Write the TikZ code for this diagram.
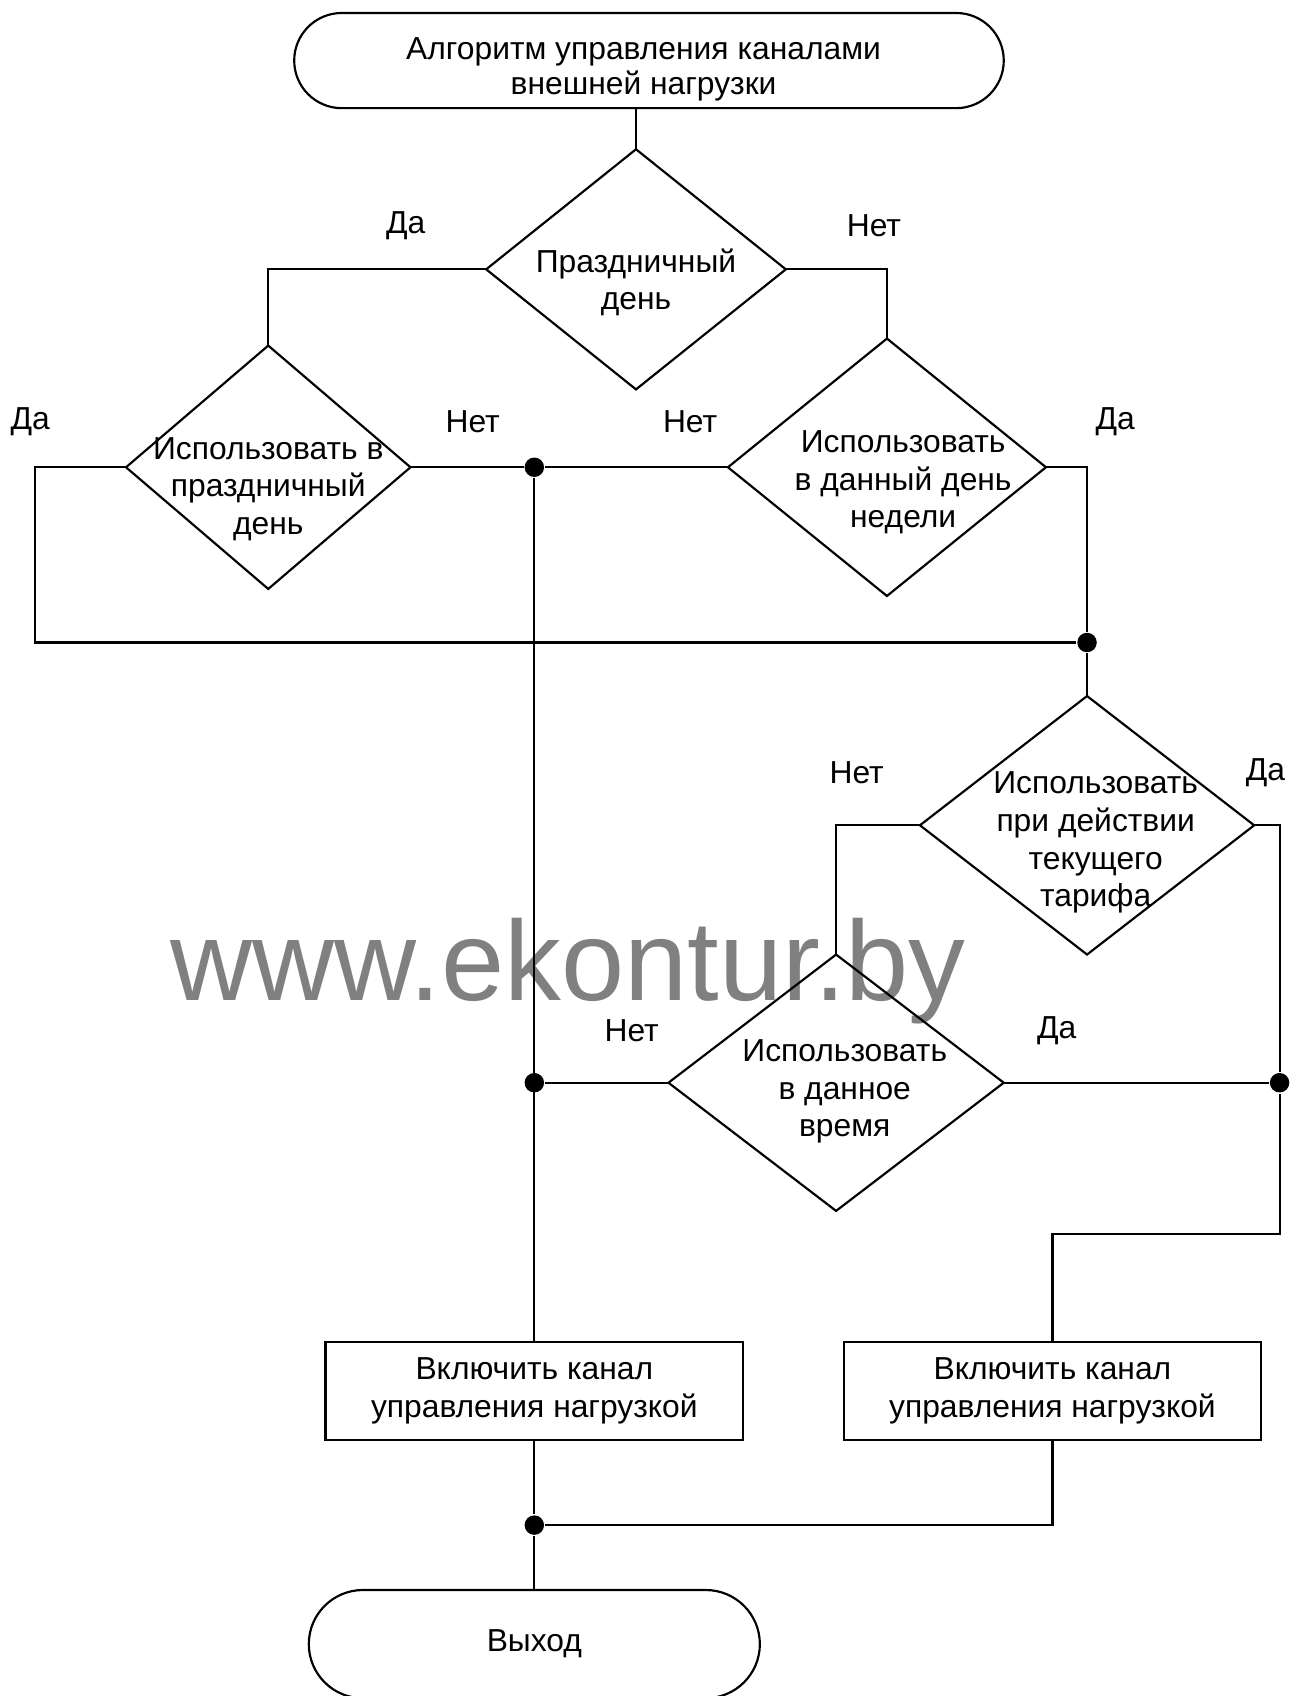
\documentclass[tikz,border=0pt]{standalone}
\usepackage{fontspec}
\setmainfont{Liberation Sans}
\usetikzlibrary{shapes.geometric}
\begin{document}
\begin{tikzpicture}[x=0.5pt,y=-0.5pt,line width=1pt,
  txt/.style={align=center,inner sep=0pt,font=\fontsize{14.7}{17.4}\selectfont},
  lbl/.style={inner sep=0pt,font=\fontsize{14.7}{17.4}\selectfont},
  dia/.style={draw,diamond,inner sep=0pt,outer sep=0pt},
  term/.style={draw,rectangle,inner sep=0pt,outer sep=0pt,align=center,font=\fontsize{14.7}{17.4}\selectfont},
  proc/.style={draw,rectangle,inner sep=0pt,outer sep=0pt,align=center,minimum width=193pt,minimum height=45.5pt,font=\fontsize{14.7}{17.4}\selectfont},
  dot/.style={circle,fill=black,inner sep=0pt,minimum size=9pt}]
\useasboundingbox (0,0) rectangle (1206,1568);
% watermark
\node[anchor=base,inner sep=0pt,text=black!50,font=\fontsize{52.5}{52.5}\selectfont] (wm) at (525,925) {www.ekontur.by};
% nodes
\node[term,rounded corners=22pt,minimum width=328pt,minimum height=44pt] (t1) at (600,56) {};
\node[txt,font=\fontsize{14.7}{16.2}\selectfont] (t1t) at (595,64) {Алгоритм управления каналами\\внешней нагрузки};
\node[dia,minimum width=138.5pt,minimum height=111pt] (d1) at (588,249) {};
\node[txt] (d1t) at (588,261) {Праздничный\\день};
\node[dia,minimum width=131.5pt,minimum height=112.5pt] (d2) at (248,432) {};
\node[txt] (d2t) at (248,452) {Использовать в\\праздничный\\день};
\node[dia,minimum width=147pt,minimum height=119pt] (d3) at (820,432) {};
\node[txt] (d3t) at (835,446) {Использовать\\в данный день\\недели};
\node[dia,minimum width=154.5pt,minimum height=119.5pt] (d4) at (1005,763) {};
\node[txt] (d4t) at (1013,779) {Использовать\\при действии\\текущего\\тарифа};
\node[dia,minimum width=155pt,minimum height=118.5pt] (d5) at (773,1001) {};
\node[txt] (d5t) at (781,1009) {Использовать\\в данное\\время};
\node[proc] (p1) at (494,1286) {Включить канал\\управления нагрузкой};
\node[proc] (p2) at (973,1286) {Включить канал\\управления нагрузкой};
\node[term,rounded corners=25pt,minimum width=208.5pt,minimum height=50pt] (t2) at (494,1520) {Выход};
% junctions
\node[dot] (j1) at (494,432) {};
\node[dot] (j2) at (1005,594) {};
\node[dot] (j3) at (494,1001) {};
\node[dot] (j5) at (1183,1001) {};
\node[dot] (j4) at (494,1410) {};
\coordinate (cL) at (32,594);
\coordinate (c2) at (973,1141);
% connectors
\draw (d1.north |- t1.south) -- (d1.north);
\draw (d1.west) -| (d2.north);
\draw (d1.east) -| (d3.north);
\draw (d2.west) -| (cL) -- (j2);
\draw (d2.east) -- (j1) -- (d3.west);
\draw (d3.east) -| (j2) -- (d4.north);
\draw (j1) -- (p1.north);
\draw (d4.west) -| (d5.north);
\draw (d5.west) -- (j3);
\draw (d4.east) -| (j5);
\draw (d5.east) -- (j5);
\draw (j5) -- (j5 |- c2) -| (p2.north);
\draw (p1.south) -- (j4) -- (t2.north);
\draw (p2.south) |- (j4);
% labels
\node[lbl] (l1) at (375,209) {Да};
\node[lbl] (l2) at (808,209) {Нет};
\node[lbl] (l3) at (28,390) {Да};
\node[lbl] (l4) at (437,390) {Нет};
\node[lbl] (l5) at (638,390) {Нет};
\node[lbl] (l6) at (1031,390) {Да};
\node[lbl] (l7) at (792,714) {Нет};
\node[lbl] (l8) at (1170,714) {Да};
\node[lbl] (l9) at (584,953) {Нет};
\node[lbl] (l10) at (977,953) {Да};
\end{tikzpicture}
\end{document}
